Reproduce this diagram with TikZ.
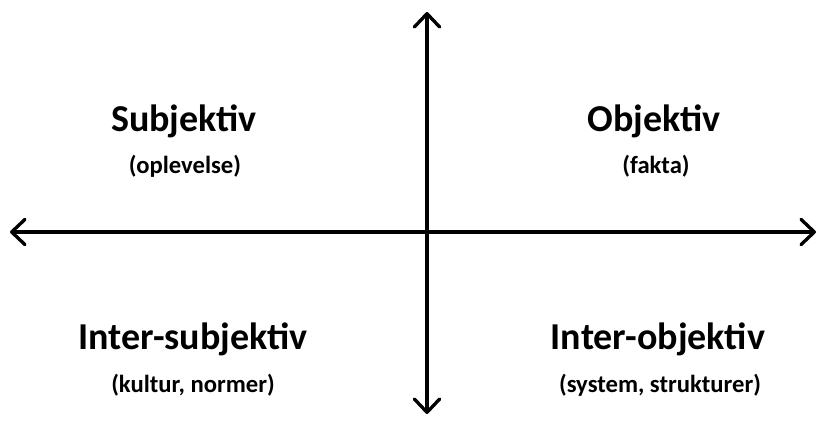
\documentclass[tikz,border=0pt]{standalone}
\usepackage{fontspec}
\setmainfont{Carlito}
\usetikzlibrary{arrows.meta}
\tikzset{
  axisline/.style={line width=2.5pt, {Straight Barb[length=10pt,width=19pt,line width=2.5pt,round]}-{Straight Barb[length=10pt,width=19pt,line width=2.5pt,round]}},
  titletext/.style={font=\bfseries\fontsize{28.5}{34}\selectfont, anchor=base, inner sep=0pt},
  subtext/.style={font=\bfseries\fontsize{18.5}{22}\selectfont, anchor=base, inner sep=0pt}
}
\begin{document}
\begin{tikzpicture}[x=0.75pt,y=-0.75pt]
\useasboundingbox (0,0) rectangle (822,425);
\coordinate (top) at (427,12);
\coordinate (bottom) at (427,414);
\coordinate (left) at (10,232);
\coordinate (right) at (816,232);
\draw[axisline] (bottom) -- (top);
\draw[axisline] (left) -- (right);
\node[titletext] (subj) at (184,131) {Subjektiv};
\node[subtext] (subjs) at (185,173) {(oplevelse)};
\node[titletext] (obj) at (654,131) {Objektiv};
\node[subtext] (objs) at (656,173) {(fakta)};
\node[titletext] (isubj) at (193,349) {Inter-subjektiv};
\node[subtext] (isubjs) at (193,392) {(kultur, normer)};
\node[titletext] (iobj) at (658,349) {Inter-objektiv};
\node[subtext] (iobjs) at (660,392) {(system, strukturer)};
\end{tikzpicture}
\end{document}
